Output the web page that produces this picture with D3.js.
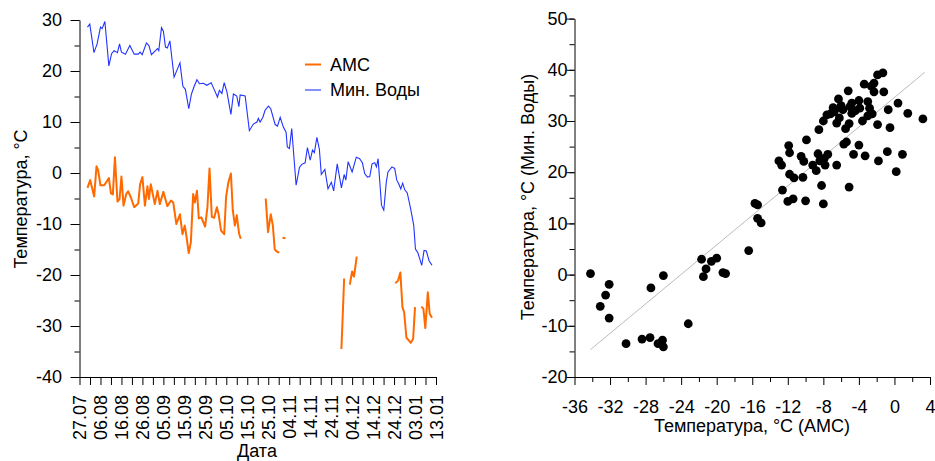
<!DOCTYPE html>
<html>
<head>
<meta charset="utf-8">
<script src="https://cdn.jsdelivr.net/npm/d3@7"></script>
<style>
  body { margin: 0; background: #fff; }
  svg { font-family: "Liberation Sans", Arial, sans-serif; }
  .axis path, .axis line { stroke: #000; }
  .axis text { font-size: 18px; fill: #000; }
</style>
</head>
<body>
<svg id="chart" width="935" height="461"></svg>
<script>
// days are counted from 27.07
const startDate = new Date(2010, 6, 27);
const endDay = 170;

// Мин. Воды, daily series
const minVodyDays = [3.8, 4.9, 6.9, 8.4, 10, 10.8, 12.1, 14, 15.3, 16.5, 18.1, 19.1, 20, 21.9, 24, 26.1, 28, 28.9, 29.9,
  31.9, 33.1, 34.3, 37.2, 37.8, 39.1, 40, 41, 41.9, 43.1, 45.1, 47.9, 49.3, 50.5, 52.1, 53.4, 54.7, 56, 57.2, 59.1,
  60.7, 62.8, 64.2, 65.8, 66.7, 67.9, 69, 70.3, 72.2, 73.4, 75, 76, 76.6, 79, 81, 82.9, 84.6, 85.3, 86.1, 87.4,
  88.5, 90.1, 91.2, 93.3, 94.4, 95.7, 97.2, 98.5, 99.1, 100.1, 101.2, 103.3, 104.9, 106, 107.6, 108.7, 110, 111.1,
  112, 113.2, 114.4, 115.3, 117, 118.5, 120.1, 121.2, 122.9, 124.9, 126.2, 127, 128.1, 130, 132, 133.6, 134.9, 136,
  137.3, 138.4, 139.5, 140.8, 141.6, 142.4, 144, 145.1, 146.3, 147.1, 149, 150.3, 151.3, 152.2, 153.2, 154.1,
  155.1, 156.3, 157.9, 159.4, 160.2, 161.4, 163.2, 164.3, 165.4, 166.7, 168.1];
const minVodyTemp = [28.6, 29.2, 23.6, 25.3, 28.6, 28.3, 29.7, 21.0, 23.4, 24.0, 23.6, 25.3, 23.7, 23.3, 25.0, 23.3, 23.3, 23.7, 23.2,
  25.5, 25.0, 23.2, 24.4, 24.0, 28.5, 27.8, 24.7, 24.5, 25.9, 18.8, 21.6, 17.0, 16.4, 12.6, 15.5, 17.0, 18.3, 17.5, 17.6,
  17.2, 17.7, 16.4, 14.9, 16.2, 15.6, 17.7, 15.9, 11.5, 15.5, 15.1, 13.0, 15.3, 15.1, 8.3, 9.6, 10.0, 10.7, 10.0, 10.9,
  12.3, 13.1, 12.6, 9.5, 9.2, 10.9, 9.0, 8.0, 5.1, 4.8, 8.7, -2.4, 1.1, 1.7, 2.0, 5.0, 2.5, 4.5,
  4.0, 7.0, 4.6, -0.3, 0.7, -3.1, -1.8, -3.5, 1.8, -2.9, -0.3, -1.4, 2.2, 0.2, 3.1, 2.8, 2.0, -0.1,
  -0.8, -0.7, 1.8, 2.0, 1.2, 2.8, -6.3, -7.3, -1.8, 0.2, 1.2, 0.9, -1.4, -2.1, -3.1, -2.0,
  -3.3, -3.9, -7.0, -10.3, -14.9, -15.7, -18.1, -15.2, -15.3, -17.2, -18.1];

// АМС series, null = no data
const amcDays = [3.8, 5.1, 7, 8.1, 8.9, 10, 11.8, 14, 15, 15.9, 16.9, 18.1, 19.1, 20, 21, 22.3, 23.2, 24.5, 26.1, 28,
  28.9, 30, 31.2, 32.4, 33.1, 34, 35.9, 37.2, 38.3, 40, 41.9, 43.6, 44.7, 46.2, 47.9, 49.1, 50.2, 51, 52.1, 53.1,
  54.2, 55, 56, 56.9, 58.1, 59.9, 61, 62, 63.1, 64.2, 65.5, 66.3, 67.5, 69, 69.9, 71, 72.2, 73.1, 74.1, 75, 76.1, 76.9,
  80,
  88.8, 89.9, 91.2, 92.2, 93.1, 94.4, 95.3,
  96,
  96.8, 98.2,
  110,
  124.9, 126.2,
  127.5,
  128.9, 130, 130.9, 132.2,
  140,
  150.6, 151.9, 153, 154, 154.8, 155.9, 157, 158, 159.1, 160,
  161.5,
  163, 164, 164.9, 166.1, 167, 168.1];
const amcTemp = [-2.9, -1.4, -4.6, 1.3, 0.5, -2.4, -2.4, -1.0, -4.0, -4.2, 3.1, -5.6, -5.1, -0.7, -6.4, -4.1, -3.6, -4.8, -6.7, -6.0,
  -2.2, -0.8, -6.4, -2.6, -5.1, -2.2, -6.1, -3.5, -6.1, -3.7, -6.5, -5.4, -5.8, -10.0, -8.1, -12.0, -10.3, -12.4, -15.7, -13.6,
  -4.1, -5.8, -3.5, -8.9, -8.7, -10.5, -6.7, 0.9, -8.6, -8.8, -6.7, -8.0, -11.3, -12.0, -4.7, -1.8, -0.1, -7.3, -10.3, -8.3, -11.9, -12.9,
  null,
  -5.0, -11.6, -8.1, -10.3, -15.0, -15.5, -15.6,
  null,
  -12.7, -12.8,
  null,
  -34.5, -20.7,
  null,
  -21.9, -19.3, -20.3, -16.4,
  null,
  -21.6, -21.1, -19.5, -26.3, -27.3, -32.3, -32.8, -33.3, -32.5, -26.3,
  null,
  -26.2, -26.6, -30.4, -23.4, -27.6, -28.4];

// scatter: АМС (x) vs Мин. Воды (y)
const scatterAmc = [-34.2, -32.1, -32.5, -33.1, -32.1, -27.4, -26.0, -30.2, -28.4, -27.5, -26.6, -26.1, -26.0, -23.2,
  -21.7, -21.5, -21.2, -20.6, -20.0, -19.3, -19.0, -16.4, -15.7, -15.4, -15.4, -15.0,
  -12.6, -12.0, -11.4, -10.0, -8.0, -8.2, -5.1, -11.8, -11.3, -10.3, -13.0, -12.7, -11.9, -11.8, -9.9, -10.5, -10.2,
  -9.2, -8.8, -8.6, -8.4, -7.9, -7.8, -7.5, -6.5, -8.5, -8.0, -6.3, -6.7, -6.5, -6.2, -5.8, -5.5, -5.2, -5.1, -5.7,
  -5.4, -4.8, -4.8, -4.6, -4.0, -4.0, -3.9, -3.6, -3.3, -3.4, -3.0, -2.8, -2.5, -2.6, -2.3, -2.3, -1.9, -1.3, -1.9,
  -1.8, -1.2, -0.8, -0.7, -0.5, 0.2, 0.4, 0.9, 1.5, 3.2, -7.2, -6.9, -6.0, -4.4, -3.0, -5.0, -7.6, -6.8];
const scatterMinVody = [0.2, -1.9, -4.0, -6.2, -8.5, -2.6, -0.2, -13.5, -12.6, -12.3, -13.5, -12.8, -14.1, -9.6,
  3.0, -0.4, 1.1, 2.6, 3.2, 0.4, 0.2, 4.7, 13.9, 13.6, 11.0, 10.1,
  16.5, 14.3, 14.8, 14.4, 13.8, 17.4, 17.1, 19.6, 18.9, 19.0, 22.2, 21.4, 25.2, 23.8, 26.3, 23.1, 22.1,
  21.4, 20.3, 23.6, 22.2, 22.7, 21.4, 23.5, 21.4, 28.3, 30.0, 34.3, 32.2, 29.6, 30.6, 32.2, 28.5, 35.9, 29.5, 25.5,
  25.9, 33.5, 31.5, 23.5, 25.3, 34.0, 32.5, 30.0, 23.2, 37.2, 33.8, 32.5, 31.4, 36.8, 35.7, 37.4, 39.0, 39.4, 29.3,
  22.2, 35.7, 24.0, 32.2, 28.7, 20.1, 33.5, 23.5, 31.5, 30.4, 31.4, 32.6, 33.0, 32.0, 31.0, 32.8, 31.2, 31.8];

// fitted line from the picture
const fitRange = [-34.2, 3.4];
const fitSlope = 1.44;
const fitIntercept = 34.6;

const svg = d3.select("#chart");
const dayToDate = d => startDate.getTime() + d * 864e5;

// ---------- left: time series ----------
const x1 = d3.scaleTime()
  .domain([startDate, d3.timeDay.offset(startDate, endDay)])
  .range([79.5, 436]);
const y1 = d3.scaleLinear().domain([-40, 30]).range([377, 20]);

const left = svg.append("g");

left.append("g").attr("class", "axis")
  .attr("transform", "translate(79.5,0)")
  .call(d3.axisLeft(y1).tickValues(d3.range(-40, 31, 5)).tickSize(5).tickFormat(""))
  .call(g => g.select(".domain").remove());
left.append("g").attr("class", "axis")
  .attr("transform", "translate(79.5,0)")
  .call(d3.axisLeft(y1).tickValues(d3.range(-40, 31, 10)).tickSize(9).tickPadding(8.5).tickSizeOuter(0))
  .call(g => g.selectAll("text").text(d => d < 0 ? "-" + Math.abs(d) : d));

const dateTicks = d3.range(0, endDay + 1, 10).map(d => d3.timeDay.offset(startDate, d));
const minorDates = d3.range(5, endDay, 10).map(d => d3.timeDay.offset(startDate, d));
left.append("g").attr("class", "axis")
  .attr("transform", "translate(0,377)")
  .call(d3.axisBottom(x1).tickValues(minorDates).tickSize(8).tickFormat(""))
  .call(g => g.select(".domain").remove());
left.append("g").attr("class", "axis")
  .attr("transform", "translate(0,377)")
  .call(d3.axisBottom(x1).tickValues(dateTicks).tickSize(8).tickSizeOuter(0).tickFormat(d3.timeFormat("%d.%m")))
  .call(g => g.selectAll("text")
    .attr("transform", "rotate(-90)")
    .attr("text-anchor", "end")
    .attr("x", -18).attr("y", 0).attr("dy", "0.36em"));

const line1 = d3.line()
  .defined(d => d[1] != null)
  .x(d => x1(dayToDate(d[0])))
  .y(d => y1(d[1]));

left.append("path")
  .datum(minVodyDays.map((d, i) => [d, minVodyTemp[i]]))
  .attr("fill", "none").attr("stroke", "#2233ff").attr("stroke-width", 1.1)
  .attr("d", line1);

left.append("path")
  .datum(amcDays.map((d, i) => [d, amcTemp[i]]))
  .attr("fill", "none").attr("stroke", "#ff6a00").attr("stroke-width", 2)
  .attr("stroke-linejoin", "round")
  .attr("d", line1);

left.append("text")
  .attr("transform", "translate(27,199) rotate(-90)")
  .attr("text-anchor", "middle")
  .style("font-size", "18px")
  .text("Температура, °С");
left.append("text")
  .attr("x", 257).attr("y", 457)
  .attr("text-anchor", "middle")
  .style("font-size", "18px")
  .text("Дата");

// legend
const legendItems = [["АМС", "#ff6a00", 2], ["Мин. Воды", "#2233ff", 1.1]];
const lg = left.selectAll("g.leg").data(legendItems).join("g")
  .attr("class", "leg")
  .attr("transform", (d, i) => `translate(305,${64.5 + i * 25.5})`);
lg.append("line").attr("x1", 0).attr("x2", 16)
  .attr("stroke", d => d[1]).attr("stroke-width", d => d[2]);
lg.append("text").attr("x", 25).attr("dy", "0.36em")
  .style("font-size", "18px")
  .text(d => d[0]);

// ---------- right: scatter ----------
const x2 = d3.scaleLinear().domain([-36, 4]).range([574.5, 930]);
const y2 = d3.scaleLinear().domain([-20, 50]).range([377, 18.6]);

const right = svg.append("g");

right.append("g").attr("class", "axis")
  .attr("transform", "translate(574.5,0)")
  .call(d3.axisLeft(y2).tickValues(d3.range(-20, 51, 5)).tickSize(5).tickFormat(""))
  .call(g => g.select(".domain").remove());
right.append("g").attr("class", "axis")
  .attr("transform", "translate(574.5,0)")
  .call(d3.axisLeft(y2).tickValues(d3.range(-20, 51, 10)).tickSize(8).tickPadding(-1).tickSizeOuter(0))
  .call(g => g.selectAll("text").text(d => d < 0 ? "-" + Math.abs(d) : d));

right.append("g").attr("class", "axis")
  .attr("transform", "translate(0,377)")
  .call(d3.axisBottom(x2).tickValues(d3.range(-34, 4, 4)).tickSize(5).tickFormat(""))
  .call(g => g.select(".domain").remove());
right.append("g").attr("class", "axis")
  .attr("transform", "translate(0,377)")
  .call(d3.axisBottom(x2).tickValues(d3.range(-36, 5, 4)).tickSize(8).tickPadding(15).tickSizeOuter(0))
  .call(g => g.selectAll("text").text(d => d < 0 ? "-" + Math.abs(d) : d));

right.append("line")
  .attr("x1", x2(fitRange[0])).attr("y1", y2(fitSlope * fitRange[0] + fitIntercept))
  .attr("x2", x2(fitRange[1])).attr("y2", y2(fitSlope * fitRange[1] + fitIntercept))
  .attr("stroke", "#bbb").attr("stroke-width", 1);

right.selectAll("circle.pt")
  .data(scatterAmc.map((d, i) => [d, scatterMinVody[i]]))
  .join("circle")
  .attr("class", "pt")
  .attr("cx", d => x2(d[0]))
  .attr("cy", d => y2(d[1]))
  .attr("r", 4.4)
  .attr("fill", "#000");

right.append("text")
  .attr("transform", "translate(534,197) rotate(-90)")
  .attr("text-anchor", "middle")
  .style("font-size", "18px")
  .text("Температура, °С (Мин. Воды)");
right.append("text")
  .attr("x", 752).attr("y", 432)
  .attr("text-anchor", "middle")
  .style("font-size", "18px")
  .text("Температура, °С (АМС)");
</script>
</body>
</html>
